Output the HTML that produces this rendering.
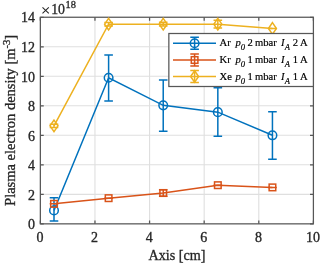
<!DOCTYPE html><html><head><meta charset="utf-8"><style>html,body{margin:0;padding:0;background:#fff;}svg{display:block;will-change:transform;}text{font-family:"Liberation Serif",serif;stroke:currentColor;stroke-width:0.32px;}</style></head><body><svg width="320" height="263" viewBox="0 0 320 263"><rect width="320" height="263" fill="#fff"/><path d="M94.96 17.25V223.85M149.57 17.25V223.85M204.18 17.25V223.85M258.79 17.25V223.85M40.35 194.34H313.4M40.35 164.82H313.4M40.35 135.31H313.4M40.35 105.79H313.4M40.35 76.28H313.4M40.35 46.76H313.4" stroke="#262626" stroke-opacity="0.15" stroke-width="1.1" fill="none"/><path d="M40.35 223.85v-3.4M40.35 17.25v3.4M94.96 223.85v-3.4M94.96 17.25v3.4M149.57 223.85v-3.4M149.57 17.25v3.4M204.18 223.85v-3.4M204.18 17.25v3.4M258.79 223.85v-3.4M258.79 17.25v3.4M313.40 223.85v-3.4M313.40 17.25v3.4M40.35 223.85h3.4M313.4 223.85h-3.4M40.35 194.34h3.4M313.4 194.34h-3.4M40.35 164.82h3.4M313.4 164.82h-3.4M40.35 135.31h3.4M313.4 135.31h-3.4M40.35 105.79h3.4M313.4 105.79h-3.4M40.35 76.28h3.4M313.4 76.28h-3.4M40.35 46.76h3.4M313.4 46.76h-3.4M40.35 17.25h3.4M313.4 17.25h-3.4" stroke="#575757" stroke-width="1.25" fill="none"/><rect x="40.35" y="17.25" width="273.05" height="206.60" fill="none" stroke="#575757" stroke-width="1.25"/><polyline points="54.00,210.42 108.61,77.75 163.22,105.35 217.83,112.14 272.44,135.31" fill="none" stroke="#0072BD" stroke-width="1.5"/><path d="M54.00 220.90V197.73M49.70 220.90h8.6M49.70 197.73h8.6M108.61 100.92V55.03M104.31 100.92h8.6M104.31 55.03h8.6M163.22 131.32V79.97M158.92 131.32h8.6M158.92 79.97h8.6M217.83 136.34V87.79M213.53 136.34h8.6M213.53 87.79h8.6M272.44 159.36V111.70M268.14 159.36h8.6M268.14 111.70h8.6" fill="none" stroke="#0072BD" stroke-width="1.5"/><circle cx="54.00" cy="210.42" r="4.3" fill="none" stroke="#0072BD" stroke-width="1.5"/><circle cx="108.61" cy="77.75" r="4.3" fill="none" stroke="#0072BD" stroke-width="1.5"/><circle cx="163.22" cy="105.35" r="4.3" fill="none" stroke="#0072BD" stroke-width="1.5"/><circle cx="217.83" cy="112.14" r="4.3" fill="none" stroke="#0072BD" stroke-width="1.5"/><circle cx="272.44" cy="135.31" r="4.3" fill="none" stroke="#0072BD" stroke-width="1.5"/><polyline points="54.00,203.85 108.61,198.17 163.22,193.01 217.83,185.19 272.44,187.40" fill="none" stroke="#D95319" stroke-width="1.5"/><path d="M49.70 203.85h8.6M49.70 203.85h8.6M104.31 198.17h8.6M104.31 198.17h8.6M163.22 196.25V189.76M158.92 196.25h8.6M158.92 189.76h8.6M213.53 185.19h8.6M213.53 185.19h8.6M268.14 187.40h8.6M268.14 187.40h8.6" fill="none" stroke="#D95319" stroke-width="1.5"/><rect x="50.70" y="200.55" width="6.60" height="6.60" fill="none" stroke="#D95319" stroke-width="1.5"/><rect x="105.31" y="194.87" width="6.60" height="6.60" fill="none" stroke="#D95319" stroke-width="1.5"/><rect x="159.92" y="189.71" width="6.60" height="6.60" fill="none" stroke="#D95319" stroke-width="1.5"/><rect x="214.53" y="181.89" width="6.60" height="6.60" fill="none" stroke="#D95319" stroke-width="1.5"/><rect x="269.14" y="184.10" width="6.60" height="6.60" fill="none" stroke="#D95319" stroke-width="1.5"/><polyline points="54.00,125.86 108.61,24.19 163.22,24.19 217.83,24.19 272.44,28.47" fill="none" stroke="#EDB120" stroke-width="1.5"/><path d="M54.00 127.56V124.17M49.70 127.56h8.6M49.70 124.17h8.6M108.61 25.96V22.41M104.31 25.96h8.6M104.31 22.41h8.6M163.22 26.10V22.27M158.92 26.10h8.6M158.92 22.27h8.6M217.83 28.02V20.35M213.53 28.02h8.6M213.53 20.35h8.6M268.14 28.47h8.6M268.14 28.47h8.6" fill="none" stroke="#EDB120" stroke-width="1.5"/><path d="M54.00 120.06L58.00 125.86L54.00 131.66L50.00 125.86Z" fill="none" stroke="#EDB120" stroke-width="1.5"/><path d="M108.61 18.39L112.61 24.19L108.61 29.99L104.61 24.19Z" fill="none" stroke="#EDB120" stroke-width="1.5"/><path d="M163.22 18.39L167.22 24.19L163.22 29.99L159.22 24.19Z" fill="none" stroke="#EDB120" stroke-width="1.5"/><path d="M217.83 18.39L221.83 24.19L217.83 29.99L213.83 24.19Z" fill="none" stroke="#EDB120" stroke-width="1.5"/><path d="M272.44 22.67L276.44 28.47L272.44 34.27L268.44 28.47Z" fill="none" stroke="#EDB120" stroke-width="1.5"/><text x="39.95" y="242.2" font-size="14" text-anchor="middle" fill="#262626" color="#262626">0</text><text x="94.56" y="242.2" font-size="14" text-anchor="middle" fill="#262626" color="#262626">2</text><text x="149.17" y="242.2" font-size="14" text-anchor="middle" fill="#262626" color="#262626">4</text><text x="203.78" y="242.2" font-size="14" text-anchor="middle" fill="#262626" color="#262626">6</text><text x="258.39" y="242.2" font-size="14" text-anchor="middle" fill="#262626" color="#262626">8</text><text x="313.00" y="242.2" font-size="14" text-anchor="middle" fill="#262626" color="#262626">10</text><text x="35.0" y="229.45" font-size="14" text-anchor="end" fill="#262626" color="#262626">0</text><text x="35.0" y="199.88" font-size="14" text-anchor="end" fill="#262626" color="#262626">2</text><text x="35.0" y="170.30" font-size="14" text-anchor="end" fill="#262626" color="#262626">4</text><text x="35.0" y="140.73" font-size="14" text-anchor="end" fill="#262626" color="#262626">6</text><text x="35.0" y="111.15" font-size="14" text-anchor="end" fill="#262626" color="#262626">8</text><text x="35.0" y="81.58" font-size="14" text-anchor="end" fill="#262626" color="#262626">10</text><text x="35.0" y="52.00" font-size="14" text-anchor="end" fill="#262626" color="#262626">12</text><text x="35.0" y="22.43" font-size="14" text-anchor="end" fill="#262626" color="#262626">14</text><path d="M42.5 7.4L48.8 13.3M48.8 7.4L42.5 13.3" stroke="#262626" stroke-width="1.05" fill="none"/><text x="51.2" y="14.4" font-size="13.8" fill="#262626" color="#262626">10</text><text x="65.6" y="7.5" font-size="10.4" fill="#262626" color="#262626">18</text><text x="177" y="259.7" font-size="14.2" text-anchor="middle" fill="#262626" color="#262626">Axis [cm]</text><text transform="translate(15.4,120.4) rotate(-90)" font-size="14.5" text-anchor="middle" fill="#262626" color="#262626">Plasma electron density [m<tspan font-size="10.5" dy="-5.5">-3</tspan><tspan dy="5.5">]</tspan></text><rect x="168.85" y="33.5" width="144.55" height="53.00" fill="#fff" stroke="#575757" stroke-width="1.25"/><path d="M173 43.2H216M194.6 37.2V49.2M190.29999999999998 37.2h8.6M190.29999999999998 49.2h8.6" stroke="#0072BD" stroke-width="1.5" fill="none"/><circle cx="194.60" cy="43.20" r="4.3" fill="none" stroke="#0072BD" stroke-width="1.5"/><text x="219.5" y="46.30" font-size="10.6" fill="#000" color="#000" style="stroke-width:0.18px">Ar</text><text x="235.6" y="46.30" font-size="10.6" fill="#000" color="#000" style="stroke-width:0.18px" font-style="italic">p</text><text x="240.8" y="50.30" font-size="8.6" fill="#000" color="#000" style="stroke-width:0.18px" font-style="italic">0</text><text x="247.4" y="46.30" font-size="10.6" fill="#000" color="#000" style="stroke-width:0.18px">2</text><text x="254.9" y="46.30" font-size="10.6" fill="#000" color="#000" style="stroke-width:0.18px">mbar</text><text x="281" y="46.30" font-size="10.6" fill="#000" color="#000" style="stroke-width:0.18px" font-style="italic">I</text><text x="284.8" y="50.30" font-size="8.6" fill="#000" color="#000" style="stroke-width:0.18px" font-style="italic">A</text><text x="292.7" y="46.30" font-size="10.6" fill="#000" color="#000" style="stroke-width:0.18px">2</text><text x="300" y="46.30" font-size="10.6" fill="#000" color="#000" style="stroke-width:0.18px">A</text><path d="M173 60.0H216M194.6 54.0V66.0M190.29999999999998 54.0h8.6M190.29999999999998 66.0h8.6" stroke="#D95319" stroke-width="1.5" fill="none"/><rect x="191.30" y="56.70" width="6.60" height="6.60" fill="none" stroke="#D95319" stroke-width="1.5"/><text x="219.5" y="63.10" font-size="10.6" fill="#000" color="#000" style="stroke-width:0.18px">Kr</text><text x="235.6" y="63.10" font-size="10.6" fill="#000" color="#000" style="stroke-width:0.18px" font-style="italic">p</text><text x="240.8" y="67.10" font-size="8.6" fill="#000" color="#000" style="stroke-width:0.18px" font-style="italic">0</text><text x="247.4" y="63.10" font-size="10.6" fill="#000" color="#000" style="stroke-width:0.18px">1</text><text x="254.9" y="63.10" font-size="10.6" fill="#000" color="#000" style="stroke-width:0.18px">mbar</text><text x="281" y="63.10" font-size="10.6" fill="#000" color="#000" style="stroke-width:0.18px" font-style="italic">I</text><text x="284.8" y="67.10" font-size="8.6" fill="#000" color="#000" style="stroke-width:0.18px" font-style="italic">A</text><text x="292.7" y="63.10" font-size="10.6" fill="#000" color="#000" style="stroke-width:0.18px">1</text><text x="300" y="63.10" font-size="10.6" fill="#000" color="#000" style="stroke-width:0.18px">A</text><path d="M173 76.5H216M194.6 70.5V82.5M190.29999999999998 70.5h8.6M190.29999999999998 82.5h8.6" stroke="#EDB120" stroke-width="1.5" fill="none"/><path d="M194.60 70.70L198.60 76.50L194.60 82.30L190.60 76.50Z" fill="none" stroke="#EDB120" stroke-width="1.5"/><text x="219.5" y="79.60" font-size="10.6" fill="#000" color="#000" style="stroke-width:0.18px">Xe</text><text x="235.6" y="79.60" font-size="10.6" fill="#000" color="#000" style="stroke-width:0.18px" font-style="italic">p</text><text x="240.8" y="83.60" font-size="8.6" fill="#000" color="#000" style="stroke-width:0.18px" font-style="italic">0</text><text x="247.4" y="79.60" font-size="10.6" fill="#000" color="#000" style="stroke-width:0.18px">1</text><text x="254.9" y="79.60" font-size="10.6" fill="#000" color="#000" style="stroke-width:0.18px">mbar</text><text x="281" y="79.60" font-size="10.6" fill="#000" color="#000" style="stroke-width:0.18px" font-style="italic">I</text><text x="284.8" y="83.60" font-size="8.6" fill="#000" color="#000" style="stroke-width:0.18px" font-style="italic">A</text><text x="292.7" y="79.60" font-size="10.6" fill="#000" color="#000" style="stroke-width:0.18px">1</text><text x="300" y="79.60" font-size="10.6" fill="#000" color="#000" style="stroke-width:0.18px">A</text></svg></body></html>
